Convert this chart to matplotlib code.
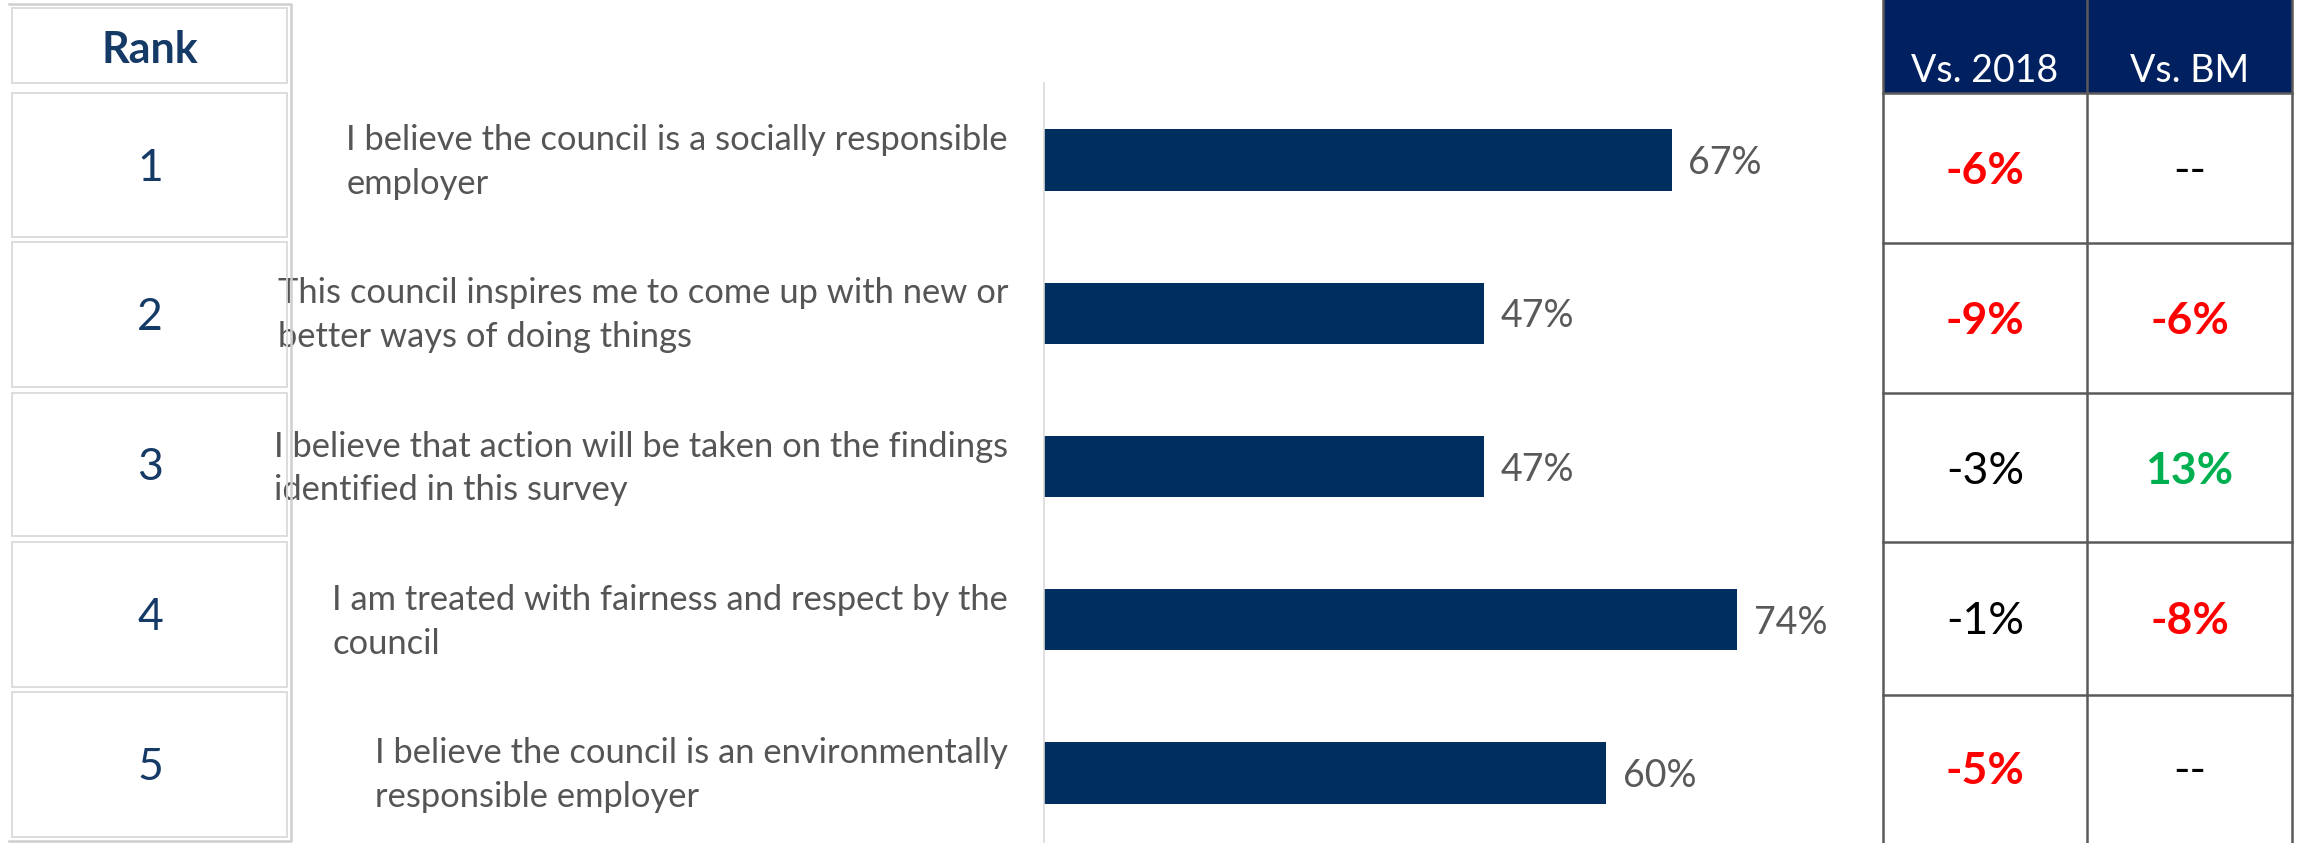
import matplotlib
matplotlib.use('agg')
import matplotlib.pyplot as plt
from matplotlib.patches import Rectangle

plt.rcParams['font.family'] = ['Lato', 'DejaVu Sans']

# data
ranks = [1, 2, 3, 4, 5]
statements = [
    'I believe the council is a socially responsible\nemployer',
    'This council inspires me to come up with new or\nbetter ways of doing things',
    'I believe that action will be taken on the findings\nidentified in this survey',
    'I am treated with fairness and respect by the\ncouncil',
    'I believe the council is an environmentally\nresponsible employer',
]
scores = [67, 47, 47, 74, 60]
vs_2018 = [-6, -9, -3, -1, -5]
vs_bm = [None, -6, 13, -8, None]
col_titles = ['Vs. 2018', 'Vs. BM']

W, H = 2298, 843
fig = plt.figure(figsize=(W / 100, H / 100), dpi=100)

# bar chart
ax = fig.add_axes([1044 / W, (H - 849.7) / H, 843 / W, 766.2 / H])
ax.barh(ranks, scores, height=0.40, color='#002E5E')
ax.set_xlim(0, 90)
ax.set_ylim(5.5, 0.5)
for side in ['top', 'right', 'bottom']:
    ax.spines[side].set_visible(False)
ax.spines['left'].set_color('#d9d9d9')
ax.spines['left'].set_linewidth(1.2)
ax.set_xticks([])
ax.set_yticks([])
ax.patch.set_visible(False)

# category labels, right edge 36px left of the axis
for r, lab in zip(ranks, statements):
    ax.text(-3.84, r + 0.012, lab, ha='right', va='center',
            multialignment='left', fontsize=24.8, color='#555555',
            linespacing=1.45, clip_on=False)

for r, s in zip(ranks, scores):
    ax.text(s + 1.8, r + 0.02, f'{s}%', va='center', ha='left', fontsize=27,
            color='#595959')

# overlay in pixel coords for the rank column and the table
ov = fig.add_axes([0, 0, 1, 1])
ov.set_xlim(0, W)
ov.set_ylim(H, 0)
ov.axis('off')

# rank column
rank_rows = [(93, 237), (242, 387), (393, 536), (542, 687), (692, 837)]
ov.add_patch(Rectangle((12, 8), 275, 75, fill=False, ec='#dadada', lw=1.3))
for top, bot in rank_rows:
    ov.add_patch(Rectangle((12, top), 275, bot - top, fill=False,
                           ec='#dadada', lw=1.3))
ov.plot([9, 291, 291, 9], [4, 4, 841, 841], color='#cfcfcf', lw=1.8)
ov.text(150, 63, 'Rank', ha='center', va='baseline', fontsize=31,
        fontweight='bold', color='#163A66')
for r, (top, bot) in zip(ranks, rank_rows):
    ov.text(150, (top + bot) / 2 + 16, str(r), ha='center', va='baseline',
            fontsize=32, color='#163A66')

# comparison table
col_x = [1883, 2087, 2292]
row_y = [93, 243, 393, 542, 695, 860]
ov.add_patch(Rectangle((col_x[0], -10), col_x[-1] - col_x[0], row_y[0] + 10,
                       color='#002060', lw=0))
for x in col_x:
    ov.plot([x, x], [-10, 860], color='#5a5a5a', lw=1.8)
for y in row_y:
    ov.plot([col_x[0], col_x[-1]], [y, y], color='#5a5a5a', lw=1.8)
for j, t in enumerate(col_titles):
    ov.text((col_x[j] + col_x[j + 1]) / 2, 82, t, ha='center', va='baseline',
            fontsize=27, color='white')


def style(v):
    if v is None or abs(v) < 4:
        return 'black', 'normal'
    return ('#FF0000', 'bold') if v < 0 else ('#00B050', 'bold')


for i in range(len(ranks)):
    yc = (row_y[i] + row_y[i + 1]) / 2 if i < 4 else 768
    for j, v in enumerate([vs_2018[i], vs_bm[i]]):
        c, w = style(v)
        txt = '--' if v is None else f'{v}%'
        ov.text((col_x[j] + col_x[j + 1]) / 2, yc + 16, txt, ha='center',
                va='baseline', fontsize=32, color=c, fontweight=w)

plt.savefig('out.png', dpi=100)
